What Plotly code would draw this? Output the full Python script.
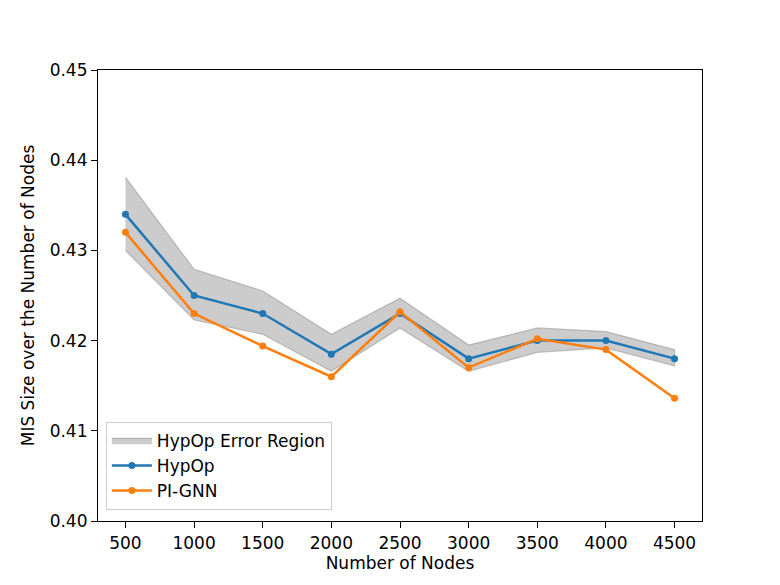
import plotly.graph_objects as go

nodes = [500, 1000, 1500, 2000, 2500, 3000, 3500, 4000, 4500]
hypop = [0.434, 0.425, 0.423, 0.4185, 0.423, 0.418, 0.420, 0.420, 0.418]
pignn = [0.432, 0.423, 0.4194, 0.416, 0.4232, 0.417, 0.4202, 0.419, 0.4136]
err_upper = [0.4381, 0.4279, 0.4255, 0.4207, 0.4247, 0.4195, 0.4214, 0.4210, 0.4190]
err_lower = [0.4300, 0.4223, 0.4207, 0.4166, 0.4214, 0.4166, 0.4187, 0.4192, 0.4172]

FONT = "DejaVu Sans"
FS = 17

fig = go.Figure()
fig.add_trace(go.Scatter(
    x=nodes + nodes[::-1],
    y=err_upper + err_lower[::-1],
    fill="toself",
    fillcolor="rgba(128,128,128,0.4)",
    line=dict(color="rgba(128,128,128,0.45)", width=1.2),
    mode="lines",
    name="HypOp Error Region",
))
fig.add_trace(go.Scatter(
    x=nodes, y=hypop, mode="lines+markers", name="HypOp",
    line=dict(color="#1f77b4", width=2.5),
    marker=dict(color="#1f77b4", size=7),
))
fig.add_trace(go.Scatter(
    x=nodes, y=pignn, mode="lines+markers", name="PI-GNN",
    line=dict(color="#ff7f0e", width=2.5),
    marker=dict(color="#ff7f0e", size=7),
))

axis_common = dict(
    showline=True, linecolor="black", linewidth=1.2, mirror=True,
    ticks="outside", ticklen=6, tickwidth=1.2, tickcolor="black",
    showgrid=False, zeroline=False,
    tickfont=dict(family=FONT, size=FS, color="black"),
)
fig.update_xaxes(
    range=[300, 4700], tickmode="array", tickvals=nodes,
    title=dict(text="Number of Nodes", font=dict(family=FONT, size=FS, color="black"), standoff=5),
    **axis_common,
)
fig.update_yaxes(
    range=[0.40, 0.45], tickmode="array",
    tickvals=[0.40, 0.41, 0.42, 0.43, 0.44, 0.45],
    ticktext=["0.40", "0.41", "0.42", "0.43", "0.44", "0.45"],
    title=dict(text="MIS Size over the Number of Nodes", font=dict(family=FONT, size=FS, color="black"), standoff=10),
    **axis_common,
)
fig.update_layout(
    width=772, height=577,
    margin=dict(l=90, r=78, t=62, b=64),
    paper_bgcolor="white", plot_bgcolor="white",
    font=dict(family=FONT, size=FS, color="black"),
    showlegend=True,
    legend=dict(
        x=0.013, y=0.025, xanchor="left", yanchor="bottom",
        bgcolor="rgba(255,255,255,0.8)", bordercolor="#cccccc", borderwidth=1,
        font=dict(family=FONT, size=FS, color="black"),
        traceorder="normal", itemwidth=40,
    ),
)
fig.write_html("out.html")
